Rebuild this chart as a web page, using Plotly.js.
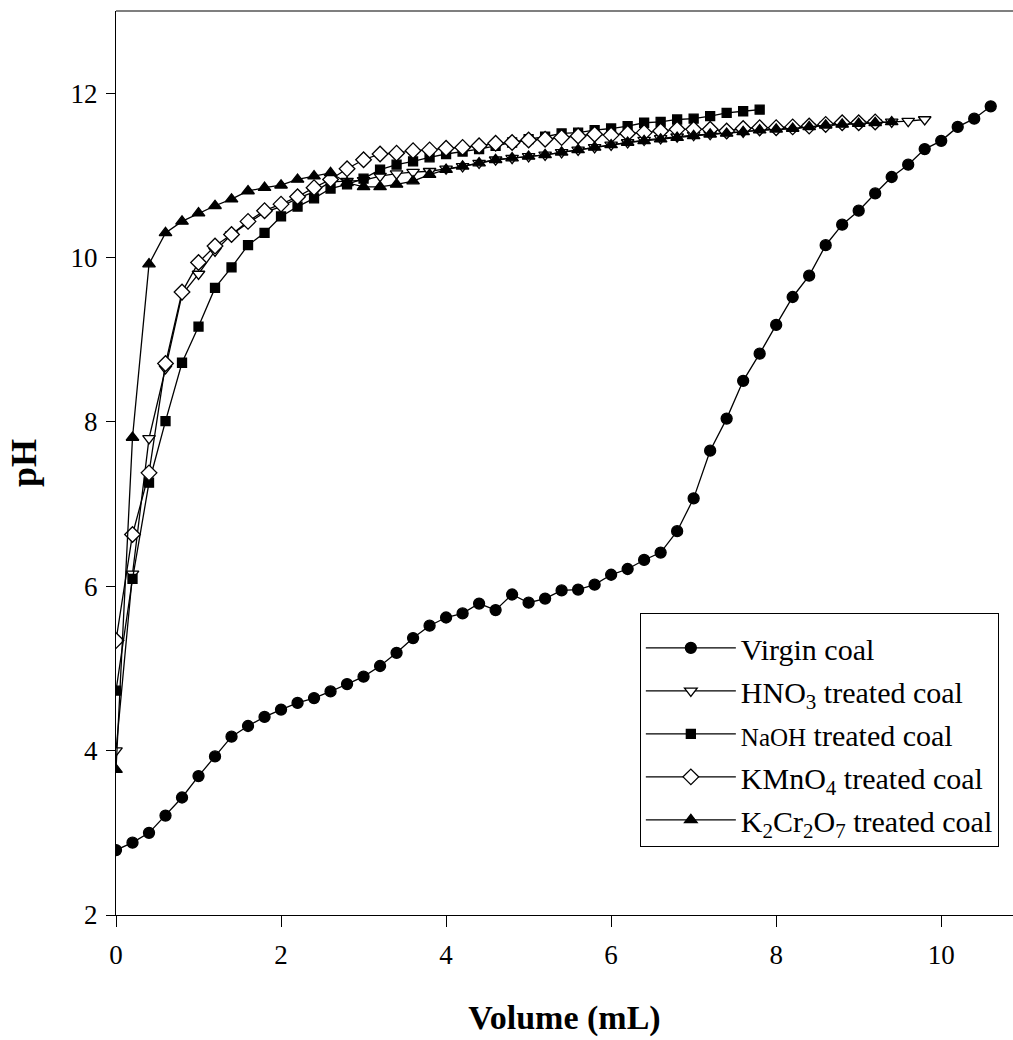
<!DOCTYPE html>
<html>
<head>
<meta charset="utf-8">
<script src="https://cdn.plot.ly/plotly-3.0.1.min.js"></script>
<style>html,body{margin:0;padding:0;background:#fff;}#chart{width:1013px;height:1040px;}</style>
</head>
<body>
<div id="chart"></div>
<script>
// Titrant volume grid (mL)
const vol = [0,0.2,0.4,0.6,0.8,1.0,1.2,1.4,1.6,1.8,2.0,2.2,2.4,2.6,2.8,3.0,3.2,3.4,3.6,3.8,
  4.0,4.2,4.4,4.6,4.8,5.0,5.2,5.4,5.6,5.8,6.0,6.2,6.4,6.6,6.8,7.0,7.2,7.4,7.6,7.8,
  8.0,8.2,8.4,8.6,8.8,9.0,9.2,9.4,9.6,9.8,10.0,10.2,10.4,10.6];

const virginPH = [2.79,2.88,3.00,3.21,3.43,3.69,3.93,4.17,4.30,4.41,
  4.50,4.58,4.64,4.72,4.81,4.90,5.03,5.19,5.37,5.52,
  5.62,5.67,5.79,5.71,5.90,5.80,5.85,5.95,5.96,6.02,
  6.14,6.21,6.32,6.41,6.67,7.07,7.65,8.04,8.50,8.83,
  9.18,9.52,9.78,10.15,10.40,10.57,10.78,10.98,11.13,11.32,
  11.42,11.59,11.69,11.84];

const hno3PH = [4.00,6.15,7.80,8.65,9.55,9.80,10.08,10.28,10.42,10.55,
  10.62,10.72,10.80,10.92,10.93,10.94,10.99,11.02,11.04,11.05,
  11.08,11.11,11.15,11.19,11.21,11.23,11.25,11.28,11.31,11.34,
  11.37,11.40,11.43,11.45,11.47,11.49,11.50,11.52,11.53,11.55,
  11.56,11.57,11.59,11.61,11.62,11.63,11.64,11.65,11.66,11.68];

const naohPH = [4.73,6.09,7.26,8.01,8.72,9.16,9.63,9.88,10.15,10.30,
  10.50,10.62,10.72,10.84,10.89,10.96,11.07,11.13,11.17,11.22,
  11.26,11.29,11.32,11.36,11.40,11.44,11.47,11.51,11.52,11.55,
  11.57,11.60,11.64,11.65,11.68,11.69,11.72,11.76,11.78,11.80];

const kmno4PH = [5.34,6.63,7.38,8.71,9.58,9.94,10.14,10.28,10.44,10.57,
  10.65,10.74,10.85,10.95,11.08,11.19,11.26,11.27,11.30,11.31,
  11.33,11.34,11.36,11.39,11.40,11.43,11.44,11.46,11.48,11.50,
  11.49,11.51,11.52,11.54,11.56,11.56,11.56,11.54,11.57,11.58,
  11.58,11.59,11.60,11.62,11.64,11.64,11.65];

const k2cr2o7PH = [3.77,7.81,9.92,10.30,10.44,10.54,10.63,10.71,10.81,10.85,
  10.88,10.95,10.99,11.03,10.91,10.86,10.86,10.89,10.93,11.01,
  11.07,11.11,11.15,11.19,11.21,11.23,11.25,11.28,11.31,11.34,
  11.37,11.40,11.42,11.44,11.46,11.48,11.50,11.51,11.53,11.55,
  11.56,11.57,11.59,11.61,11.62,11.63,11.64,11.65];

const seriesNames = [
  'Virgin coal',
  'HNO<sub>3</sub> treated coal',
  '<span style="font-size:25px">NaOH</span> treated coal',
  'KMnO<sub>4</sub> treated coal',
  'K<sub>2</sub>Cr<sub>2</sub>O<sub>7</sub> treated coal'
];

const xTicks = [0,2,4,6,8,10];
const yTicks = [2,4,6,8,10,12];

const FONT = 'Liberation Serif, Times New Roman, serif';
const lineStyle = {color:'#000', width:1.3};

function mk(idx, y, symbol, fill, size){
  return {
    type:'scatter', mode:'lines+markers', name:seriesNames[idx],
    legendgroup:'g' + idx,
    x: vol.slice(0, y.length), y: y,
    line: lineStyle,
    marker:{symbol:symbol, size:size, color:fill, line:{color:'#000', width:1.3}}
  };
}

const data = [
  mk(0, virginPH, 'circle', '#000', 11),
  mk(1, hno3PH, 'triangle-down', '#fff', 11),
  mk(2, naohPH, 'square', '#000', 9),
  mk(3, kmno4PH, 'diamond', '#fff', 12),
  mk(4, k2cr2o7PH, 'triangle-up', '#000', 11)
];

const layout = {
  width:1013, height:1040,
  margin:{l:116, r:0, t:11, b:125},
  paper_bgcolor:'#fff', plot_bgcolor:'#fff',
  showlegend:true,
  font:{family:FONT, color:'#000'},
  xaxis:{
    range:[0,10.87], tickvals:xTicks, ticktext:xTicks.map(String),
    ticks:'outside', ticklen:11, tickwidth:1, tickcolor:'#000',
    showline:true, linecolor:'#000', linewidth:1.2,
    showgrid:false, zeroline:false,
    tickfont:{family:FONT, size:27, color:'#000'},
    ticklabelstandoff:4,
    title:{text:'<b>Volume (mL)</b>', font:{family:FONT, size:34, color:'#000'}, standoff:36}
  },
  yaxis:{
    range:[2,13], tickvals:yTicks, ticktext:yTicks.map(String),
    ticks:'outside', ticklen:9, tickwidth:1, tickcolor:'#000',
    showline:true, linecolor:'#000', linewidth:1.2,
    showgrid:false, zeroline:false,
    tickfont:{family:FONT, size:27, color:'#000'},
    ticklabelstandoff:3,
    title:{text:'<b>pH</b>', font:{family:FONT, size:36, color:'#000'}, standoff:22}
  },
  legend:{
    x:0.584, y:0.334, xanchor:'left', yanchor:'top',
    bgcolor:'#fff', bordercolor:'#000', borderwidth:1,
    font:{family:FONT, size:30, color:'#000'},
    itemwidth:90, tracegroupgap:1, traceorder:'grouped',
    title:{text:' ', font:{family:FONT, size:6, color:'#000'}}
  },
  shapes:[
    {type:'line', xref:'paper', yref:'paper', x0:0, x1:1, y0:1, y1:1, line:{color:'#000', width:1.2}}
  ]
};

Plotly.newPlot('chart', data, layout, {staticPlot:true});
</script>
</body>
</html>
